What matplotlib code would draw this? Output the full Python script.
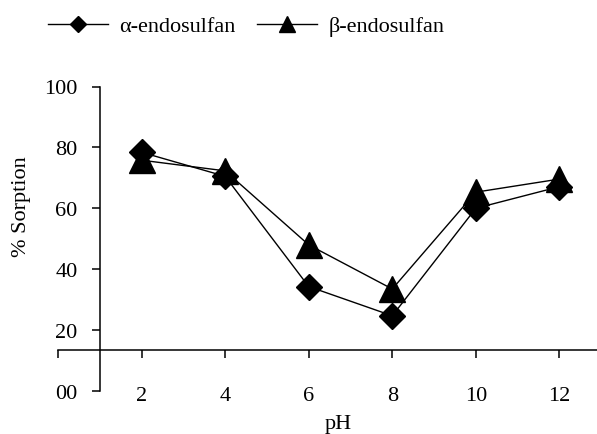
import matplotlib.pyplot as plt

# data
ph = [2, 4, 6, 8, 10, 12]
alpha_sorption = [78.4, 70.5, 34.3, 24.7, 60.0, 67.1]
beta_sorption = [75.8, 72.3, 48.0, 33.5, 65.3, 69.6]

y_ticks = [0, 20, 40, 60, 80, 100]
y_tick_labels = ["00", "20", "40", "60", "80", "100"]
x_ticks = [0, 2, 4, 6, 8, 10, 12]
x_tick_labels = ["", "2", "4", "6", "8", "10", "12"]

plt.rcParams["font.family"] = ["Liberation Serif", "DejaVu Serif"]
FS = 16

fig = plt.figure(figsize=(5.97, 4.35), dpi=100)
ax = fig.add_axes([58 / 597, 1 - 392 / 435, 1 - 58 / 597, (392 - 87.5) / 435])

ax.plot(ph, alpha_sorption, color="black", lw=1.0, marker="D", ms=13.5,
        mfc="black", mec="black", label="\u03b1-endosulfan")
ax.plot(ph, beta_sorption, color="black", lw=1.0, marker="^", ms=19,
        mfc="black", mec="black", label="\u03b2-endosulfan")

ax.set_xlim(0, 12.9)
ax.set_ylim(0, 100)

for side in ["top", "right"]:
    ax.spines[side].set_visible(False)
ax.spines["left"].set_position(("data", 1))
ax.spines["left"].set_bounds(0, 100)
ax.spines["bottom"].set_position(("data", 13.5))
for side in ["left", "bottom"]:
    ax.spines[side].set_linewidth(1.1)

ax.set_xticks(x_ticks)
ax.set_xticklabels(x_tick_labels, fontsize=FS)
ax.set_yticks(y_ticks)
ax.set_yticklabels(y_tick_labels, fontsize=FS)
ax.tick_params(axis="x", direction="out", length=6, width=1.1, pad=20)
ax.tick_params(axis="y", direction="out", length=6, width=1.1, pad=10)

fig.text(338 / 597, 1 - 425 / 435, "pH", fontsize=FS, ha="center", va="center")
fig.text(22 / 597, 1 - 207 / 435, "% Sorption", fontsize=FS, rotation=90,
         ha="center", va="center")

fig.legend(loc="center", bbox_to_anchor=(246 / 597, 1 - 27 / 435), ncol=2,
           frameon=False, fontsize=FS, handlelength=2.7, handletextpad=0.5,
           columnspacing=1.0, markerscale=0.6)

fig.savefig("out.png", dpi=100)
